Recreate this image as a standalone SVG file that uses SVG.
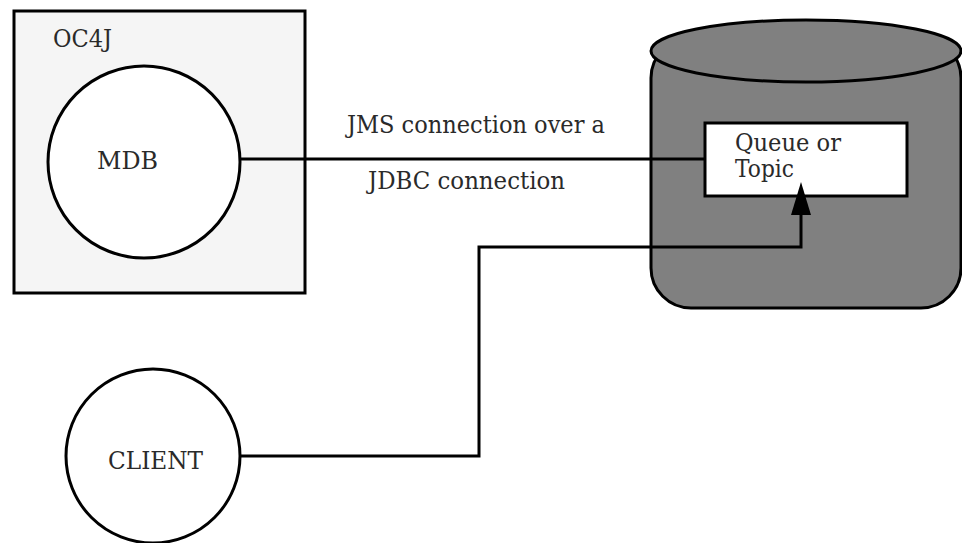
<svg xmlns="http://www.w3.org/2000/svg" width="962" height="543" viewBox="0 0 962 543">
<style>
.t{font-family:"DejaVu Serif","Liberation Serif",serif;font-size:24px;fill:#2a2a2a}
.s{stroke:#000;stroke-width:3}
</style>
<rect width="962" height="543" fill="#fff"/>
<g id="oc4j">
<rect x="14" y="11" width="291" height="282" fill="#f5f5f5" class="s"/>
<text class="t" x="53" y="47" textLength="59" lengthAdjust="spacingAndGlyphs">OC4J</text>
</g>
<g id="mdb">
<circle cx="144" cy="162" r="96" fill="#fff" class="s"/>
<text class="t" x="97" y="169" textLength="61" lengthAdjust="spacingAndGlyphs">MDB</text>
</g>
<g id="client">
<circle cx="153" cy="456" r="87" fill="#fff" class="s"/>
<text class="t" x="108" y="469" textLength="95" lengthAdjust="spacingAndGlyphs">CLIENT</text>
</g>
<g id="database">
<rect x="651" y="38" width="310" height="270" rx="40" ry="40" fill="#808080" class="s"/>
<ellipse cx="806" cy="51" rx="155" ry="31" fill="#808080" class="s"/>
</g>
<g id="queue">
<rect x="705" y="123" width="202" height="73" fill="#fff" class="s"/>
<text class="t" x="735" y="151" textLength="106" lengthAdjust="spacingAndGlyphs">Queue or</text>
<text class="t" x="735" y="177" textLength="59" lengthAdjust="spacingAndGlyphs">Topic</text>
</g>
<g id="connectors" fill="none">
<line x1="240" y1="159" x2="705" y2="159" class="s"/>
<polyline points="240,456 479,456 479,247 801,247 801,212" class="s"/>
<polygon points="801,182 791,215 811,215" fill="#000"/>
<text class="t" x="347" y="133" textLength="258" lengthAdjust="spacingAndGlyphs">JMS connection over a</text>
<text class="t" x="368" y="189" textLength="197" lengthAdjust="spacingAndGlyphs">JDBC connection</text>
</g>
</svg>
